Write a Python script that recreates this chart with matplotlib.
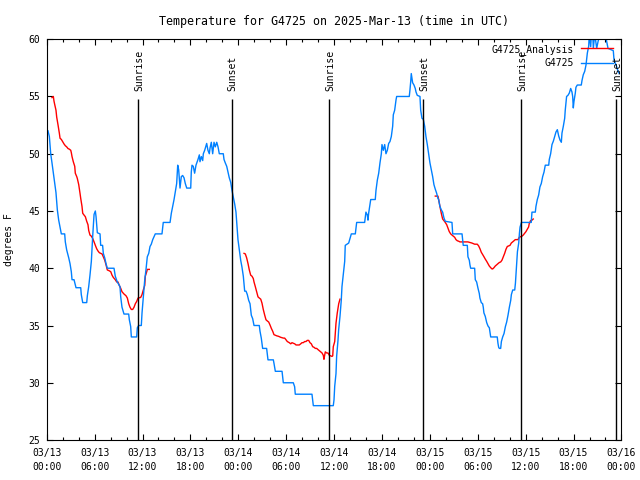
"""Temperature for G4725, observed vs analysis, with sunrise/sunset marks"""
import matplotlib
matplotlib.use('Agg')
import matplotlib.pyplot as plt
from matplotlib.ticker import MultipleLocator

plt.rcParams['font.family'] = ['DejaVu Sans Mono']
plt.rcParams['font.size'] = 7

# hours since 2025-03-13 00:00 UTC
obs_hours = [
    0.16, 0.33, 0.5, 0.66, 1.0, 1.16, 1.33, 1.5, 1.67, 1.83, 2.25, 2.33, 2.5, 2.76, 2.92,
    3.08, 3.17, 3.42, 3.67, 4.26, 4.33, 4.51, 5.01, 5.09, 5.26, 5.42, 5.59, 5.76, 5.93,
    6.09, 6.18, 6.34, 6.68, 6.76, 7.0, 7.09, 7.27, 7.43, 7.59, 8.43, 8.59, 8.84, 9.18,
    9.27, 9.43, 9.68, 10.27, 10.35, 10.52, 10.6, 11.27, 11.35, 11.52, 11.85, 11.94,
    12.1, 12.28, 12.44, 12.6, 12.78, 12.94, 13.1, 13.28, 13.6, 14.44, 14.6, 15.45,
    15.61, 15.78, 15.95, 16.11, 16.28, 16.41, 16.53, 16.7, 16.86, 17.03, 17.2, 17.36,
    17.54, 18.04, 18.11, 18.2, 18.36, 18.53, 18.7, 18.95, 19.12, 19.2, 19.37, 19.54,
    19.62, 19.79, 20.04, 20.2, 20.37, 20.46, 20.62, 20.79, 20.96, 21.12, 21.3, 21.46,
    21.62, 22.12, 22.21, 22.37, 22.55, 22.71, 22.87, 23.05, 23.21, 23.38, 23.55, 23.71,
    23.96, 24.13, 24.3, 24.46, 24.63, 24.8, 24.97, 25.13, 25.3, 25.47, 25.63, 25.8,
    25.97, 26.63, 26.72, 26.88, 27.05, 27.55, 27.72, 28.39, 28.47, 28.64, 29.48, 29.64,
    30.89, 31.06, 31.14, 33.23, 33.4, 35.9, 35.99, 36.08, 36.24, 36.32, 36.49, 36.57,
    36.74, 36.9, 36.99, 37.15, 37.33, 37.4, 37.83, 37.99, 38.16, 38.66, 38.83, 39.83,
    39.99, 40.16, 40.25, 40.33, 40.59, 41.16, 41.25, 41.42, 41.59, 41.75, 41.92, 42.0,
    42.17, 42.34, 42.5, 42.67, 42.84, 43.0, 43.17, 43.34, 43.42, 43.59, 43.76, 43.84,
    45.42, 45.51, 45.6, 45.67, 45.76, 45.84, 46.01, 46.17, 46.26, 46.42, 46.76, 46.85,
    47.01, 47.18, 47.35, 47.51, 47.68, 47.85, 48.01, 48.18, 48.35, 48.51, 48.68, 48.85,
    49.01, 49.1, 49.26, 49.43, 49.6, 49.76, 49.93, 50.77, 50.86, 52.03, 52.11, 52.18,
    52.69, 52.77, 52.94, 53.02, 53.11, 53.61, 53.69, 53.86, 54.03, 54.19, 54.27, 54.44,
    54.61, 54.69, 54.77, 54.94, 55.12, 55.28, 55.45, 55.62, 56.44, 56.53, 56.62, 56.7,
    56.87, 56.96, 57.12, 57.29, 57.46, 57.62, 57.79, 57.96, 58.13, 58.21, 58.38, 58.63,
    58.72, 58.8, 58.88, 58.97, 59.13, 59.22, 59.3, 59.47, 60.7, 60.79, 61.21, 61.29,
    61.46, 61.63, 61.79, 61.96, 62.13, 62.3, 62.46, 62.89, 62.96, 63.13, 63.3, 63.47,
    63.63, 63.8, 63.97, 64.14, 64.3, 64.47, 64.55, 64.72, 64.89, 64.96, 65.13, 65.3,
    65.47, 65.64, 65.8, 65.89, 65.97, 66.05, 66.22, 66.3, 66.47, 66.97, 67.06, 67.22,
    67.4, 67.56, 67.73, 67.9, 67.98, 68.15, 68.23, 68.4, 68.48, 68.65, 68.9, 69.07,
    69.32, 69.99, 70.15, 70.32, 70.98, 71.07, 71.23, 71.4, 71.57, 71.73,
]
obs_temp = [
    52.0, 51.5, 50.0, 49.2, 47.4, 46.6, 45.1, 44.2, 43.6, 43.0, 43.0, 42.3, 41.6, 40.9, 40.4,
    39.7, 39.0, 39.0, 38.3, 38.3, 37.7, 37.0, 37.0, 37.6, 38.4, 39.4, 40.6, 42.8, 44.7,
    45.0, 44.5, 43.1, 43.0, 42.0, 42.0, 41.3, 40.9, 40.4, 40.0, 40.0, 39.3, 38.8, 38.4,
    37.5, 36.6, 36.0, 36.0, 35.5, 34.9, 34.0, 34.0, 34.8, 35.0, 35.0, 36.1,
    37.5, 39.0, 39.9, 41.0, 41.3, 41.9, 42.1, 42.5, 43.0, 43.0, 44.0, 44.0,
    44.8, 45.4, 46.0, 46.7, 47.4, 49.0, 48.6, 47.0, 48.0, 48.1, 47.9, 47.4,
    47.0, 47.0, 48.4, 49.0, 48.9, 48.3, 49.0, 49.5, 49.9, 49.3, 49.75, 49.4,
    50.0, 50.3, 50.9, 50.3, 50.0, 50.5, 51.0, 50.0, 51.0, 50.6, 51.0, 50.6,
    50.0, 50.0, 49.5, 49.2, 48.9, 48.4, 47.9, 47.5, 46.8, 46.2, 45.6, 44.9,
    42.5, 41.6, 40.7, 40.1, 39.3, 38.0, 38.0, 37.7, 37.2, 36.9, 35.9, 35.6,
    35.0, 35.0, 34.5, 33.9, 33.0, 33.0, 32.0, 32.0, 31.7, 31.0, 31.0, 30.0,
    30.0, 29.65, 29.0, 29.0, 28.0, 28.0, 28.5, 29.7, 30.8, 32.3, 33.7, 34.6,
    35.8, 37.2, 38.4, 39.4, 40.6, 42.0, 42.2, 42.6, 43.0, 43.0, 44.0, 44.0,
    44.9, 44.65, 44.2, 44.8, 46.0, 46.0, 46.8, 47.7, 48.3, 49.2, 50.0, 50.8,
    50.3, 50.8, 50.0, 50.3, 50.9, 51.06, 51.5, 52.4, 53.4, 53.8, 54.7, 55.0,
    55.0, 55.6, 56.3, 57.0, 56.6, 56.2, 56.0, 55.7, 55.4, 55.1, 55.0, 53.8,
    53.1, 53.0, 52.4, 51.5, 50.8, 50.0, 49.2, 48.6, 48.0, 47.3, 46.9, 46.55,
    46.1, 46.0, 45.4, 45.1, 44.9, 44.4, 44.1, 44.0, 43.0, 43.0, 42.5, 42.0,
    42.0, 41.0, 40.7, 40.3, 40.0, 40.0, 39.0, 38.8, 38.25, 37.8, 37.4, 37.0,
    36.9, 36.6, 36.1, 35.8, 35.25, 34.96, 34.8, 34.0, 34.0, 33.45, 33.1, 33.0,
    33.0, 33.6, 34.0, 34.3, 34.9, 35.3, 35.9, 36.6, 37.2, 37.7, 38.1, 38.1,
    38.7, 39.6, 40.4, 41.45, 42.2, 43.05, 43.6, 44.0, 44.0, 44.9, 44.9, 45.4,
    46.0, 46.4, 47.1, 47.4, 48.0, 48.4, 49.0, 49.0, 49.5, 50.0, 50.8, 51.1,
    51.5, 51.9, 52.1, 51.55, 51.2, 51.0, 51.8, 52.4, 53.1, 53.8, 55.0, 55.1,
    55.3, 55.7, 55.4, 55.0, 54.0, 54.55, 55.3, 55.8, 56.0, 56.0, 56.4, 56.9,
    57.2, 57.75, 58.8, 59.4, 60.5, 59.35, 60.5, 60.5, 59.2, 60.5, 59.2, 59.8,
    60.5, 60.5, 59.8, 59.2, 59.0, 58.2, 57.9, 57.6, 57.2, 57.0,
]

ana_hours_1 = [
    0.66, 0.83, 0.91, 1.0, 1.16, 1.25, 1.42, 1.58, 1.67, 1.83, 2.0, 2.17, 2.33, 2.5, 2.67,
    2.83, 3.01, 3.08, 3.17, 3.33, 3.51, 3.58, 3.76, 3.83, 4.01, 4.17, 4.26, 4.42, 4.51,
    4.67, 4.84, 5.01, 5.17, 5.26, 5.42, 5.59, 5.76, 5.93, 6.09, 6.26, 6.43, 6.59, 6.76,
    6.93, 7.09, 7.27, 7.43, 7.59, 7.77, 8.02, 8.18, 8.34, 8.59, 8.77, 8.93, 9.09, 9.27,
    9.43, 9.68, 9.93, 10.1, 10.27, 10.43, 10.6, 10.77, 10.94, 11.1, 11.27, 11.44, 11.77,
    11.94, 12.1, 12.28, 12.35, 12.44, 12.53, 12.6, 12.85,
]
ana_temp_1 = [
    54.9, 55.0, 54.6, 54.3, 53.8, 53.2, 52.5, 51.8, 51.35, 51.25, 51.05, 50.85, 50.7, 50.6, 50.45,
    50.4, 50.3, 50.1, 49.75, 49.3, 48.9, 48.3, 48.0, 47.85, 47.3, 46.55, 46.1, 45.4, 44.8,
    44.65, 44.5, 44.1, 43.8, 43.3, 42.9, 42.8, 42.6, 42.3, 42.0, 41.7, 41.5, 41.36, 41.3,
    41.25, 41.0, 40.7, 40.3, 39.85, 39.8, 39.7, 39.4, 39.2, 39.0, 38.8, 38.8, 38.5, 38.25,
    37.95, 37.75, 37.6, 37.4, 36.9, 36.6, 36.4, 36.4, 36.6, 36.9, 37.1, 37.4, 37.45,
    37.7, 38.1, 38.5, 39.3, 39.5, 39.7, 39.9, 39.9,
]
ana_hours_2 = [
    24.72, 24.88, 25.05, 25.22, 25.38, 25.55, 25.72, 25.88, 25.97, 26.13, 26.3, 26.47,
    26.63, 26.81, 26.97, 27.13, 27.31, 27.47, 27.63, 27.81, 27.97, 28.14, 28.31, 28.47,
    28.64, 28.81, 29.06, 29.31, 29.64, 29.81, 29.98, 30.14, 30.39, 30.57, 30.73, 30.89,
    31.07, 31.23, 31.48, 31.64, 31.82, 31.98, 32.14, 32.32, 32.48, 32.64, 32.82, 32.98,
    33.15, 33.32, 33.48, 33.65, 33.82, 33.98, 34.15, 34.32, 34.49, 34.65, 34.73, 34.82,
    34.9, 35.07, 35.24, 35.4, 35.58, 35.74, 35.83, 35.9, 36.08, 36.15, 36.24, 36.4,
    36.58, 36.74,
]
ana_temp_2 = [
    41.3, 41.25, 40.9, 40.4, 39.85, 39.4, 39.3, 39.1, 38.8, 38.4, 37.95, 37.5,
    37.4, 37.3, 36.95, 36.4, 35.9, 35.5, 35.4, 35.3, 35.05, 34.75, 34.5, 34.2,
    34.15, 34.1, 34.05, 33.97, 33.9, 33.9, 33.75, 33.6, 33.5, 33.4, 33.5, 33.45,
    33.4, 33.3, 33.3, 33.3, 33.4, 33.5, 33.5, 33.6, 33.6, 33.7, 33.7, 33.5,
    33.4, 33.15, 33.1, 33.0, 33.0, 32.9, 32.8, 32.7, 32.6, 32.4, 32.05, 32.4,
    32.7, 32.6, 32.6, 32.4, 32.35, 32.3, 32.35, 33.15, 33.6, 34.3, 35.2, 36.1,
    36.9, 37.3,
]
ana_hours_3 = [
    48.68, 49.01, 49.1, 49.26, 49.43, 49.6, 49.76, 49.93, 50.11, 50.27, 50.43, 50.61,
    50.77, 50.94, 51.11, 51.27, 51.44, 51.61, 51.77, 52.02, 52.18, 52.43, 52.77, 53.02,
    53.27, 53.61, 53.94, 54.11, 54.28, 54.44, 54.61, 54.78, 54.94, 55.12, 55.28, 55.44,
    55.62, 55.78, 55.87, 56.03, 56.2, 56.37, 56.53, 56.7, 56.87, 57.03, 57.2, 57.37,
    57.53, 57.7, 57.87, 58.04, 58.2, 58.37, 58.54, 58.7, 58.87, 59.04, 59.2, 59.37,
    59.54, 59.7, 59.87, 60.04, 60.2, 60.37, 60.45, 60.62, 60.79, 60.95,
]
ana_temp_3 = [
    46.3, 46.3, 46.0, 45.4, 44.8, 44.3, 44.16, 44.0, 43.8, 43.5, 43.2, 43.0,
    42.9, 42.8, 42.7, 42.5, 42.4, 42.36, 42.3, 42.3, 42.3, 42.3, 42.3, 42.25,
    42.2, 42.1, 42.1, 41.95, 41.7, 41.4, 41.2, 41.0, 40.8, 40.6, 40.4, 40.2,
    40.05, 39.94, 39.94, 40.05, 40.2, 40.3, 40.4, 40.5, 40.55, 40.7, 41.0, 41.3,
    41.65, 41.9, 41.95, 42.0, 42.2, 42.3, 42.4, 42.5, 42.5, 42.5, 42.7, 42.76,
    42.8, 42.9, 43.05, 43.2, 43.4, 43.6, 43.9, 44.16, 44.2, 44.3,
]

sun_hours = [11.47, 23.17, 35.40, 47.17, 59.45, 71.28]
sun_labels = ['Sunrise', 'Sunset', 'Sunrise', 'Sunset', 'Sunrise', 'Sunset']

tick_hours = [0, 6, 12, 18, 24, 30, 36, 42, 48, 54, 60, 66, 72]
tick_labels = ['03/13\n00:00', '03/13\n06:00', '03/13\n12:00', '03/13\n18:00',
               '03/14\n00:00', '03/14\n06:00', '03/14\n12:00', '03/14\n18:00',
               '03/15\n00:00', '03/15\n06:00', '03/15\n12:00', '03/15\n18:00',
               '03/16\n00:00']

RED = '#ff0000'
BLUE = '#0080ff'

fig = plt.figure(figsize=(6.4, 4.8), dpi=100)
ax = fig.add_axes([0.073, 0.0833, 0.898, 0.835])

ax.plot(ana_hours_1, ana_temp_1, color=RED, lw=1, label='G4725_Analysis')
ax.plot(ana_hours_2, ana_temp_2, color=RED, lw=1)
ax.plot(ana_hours_3, ana_temp_3, color=RED, lw=1)
ax.plot(obs_hours, obs_temp, color=BLUE, lw=1, label='G4725')

# sunrise / sunset markers
for h, name in zip(sun_hours, sun_labels):
    ax.vlines(h, 25, 54.8, color='black', lw=1)
    ax.text(h + 0.15, 55.45, name, rotation=90, ha='center', va='bottom')

ax.set_xlim(0, 72)
ax.set_ylim(25, 60)
ax.set_xticks(tick_hours)
labels = ax.set_xticklabels(tick_labels)
for lbl in labels:
    lbl.set_linespacing(1.45)
ax.xaxis.set_minor_locator(MultipleLocator(2))
ax.yaxis.set_major_locator(MultipleLocator(5))
ax.tick_params(which='both', direction='in', top=True, right=True, width=0.8)
ax.tick_params(which='major', length=4.5)
ax.tick_params(which='minor', length=2.5)
ax.tick_params(axis='x', pad=6)
ax.tick_params(axis='y', pad=5)

ax.set_ylabel('degrees F', labelpad=10)
ax.set_title('Temperature for G4725 on 2025-Mar-13 (time in UTC)', pad=10.5)

ax.legend(loc='upper right', frameon=False, markerfirst=False,
          bbox_to_anchor=(1 - 8.5 / 575, 1 - 4.5 / 400.7),
          borderaxespad=0, borderpad=0, handlelength=3.3,
          handletextpad=0.7, labelspacing=0.35)

plt.savefig('out.png', dpi=100)
plt.close()
